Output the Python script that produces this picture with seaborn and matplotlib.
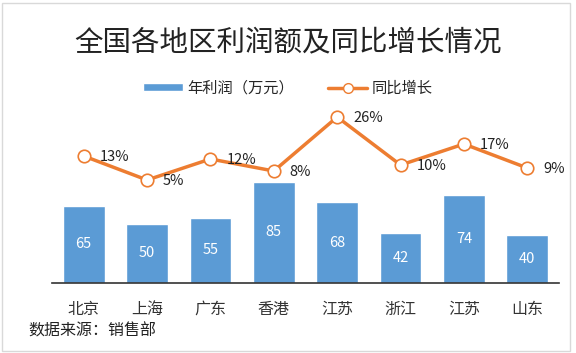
import pandas as pd
import matplotlib.pyplot as plt
import seaborn as sns
from matplotlib.patches import Patch, Rectangle
from matplotlib.lines import Line2D

# 数据
regions = ['北京', '上海', '广东', '香港', '江苏', '浙江', '江苏', '山东']
profit = [65, 50, 55, 85, 68, 42, 74, 40]
growth = [13, 5, 12, 8, 26, 10, 17, 9]

df = pd.DataFrame({'pos': range(len(regions)), 'profit': profit, 'growth': growth})

sns.set_theme(style='white')
plt.rcParams['font.family'] = ['Noto Sans CJK SC', 'DejaVu Sans']

bar_color = '#5B9BD5'
line_color = '#ED7D31'

fig = plt.figure(figsize=(5.76, 3.53), dpi=100)
ax = fig.add_axes([52 / 576, 70 / 353, 507 / 576, 183 / 353])

# 柱状图
sns.barplot(data=df, x='pos', y='profit', color=bar_color, saturation=1,
            width=0.66, ax=ax)
for i, v in enumerate(profit):
    ax.text(i, v / 2, str(v), color='white', ha='center', va='center', fontsize=10.5)

ax.set_xlim(-0.5, len(regions) - 0.5)
ax.set_ylim(0, 183 / 1.19)
ax.set_xticks(range(len(regions)))
ax.set_xticklabels(regions, fontsize=11.5, color='#333333')
ax.tick_params(axis='x', length=0, pad=13)
ax.set_yticks([])
ax.set_xlabel('')
ax.set_ylabel('')
for s in ['top', 'right', 'left']:
    ax.spines[s].set_visible(False)
ax.spines['bottom'].set_color('#333333')
ax.spines['bottom'].set_linewidth(1.2)

# 同比增长折线
ax2 = ax.twinx()
sns.lineplot(data=df, x='pos', y='growth', color=line_color, linewidth=2.5,
             marker='o', markersize=9, markerfacecolor='white',
             markeredgecolor=line_color, markeredgewidth=1.2, ax=ax2)
for i, g in enumerate(growth):
    ax2.text(i + 0.25, g - 0.4, f'{g}%', ha='left', va='center', fontsize=10.5, color='#222222')
ax2.set_ylim(-88 / 3, 95 / 3)
ax2.set_yticks([])
ax2.set_ylabel('')
for s in ['top', 'right', 'left', 'bottom']:
    ax2.spines[s].set_visible(False)

# 标题与图例
fig.text(0.5, 1 - 42 / 353, '全国各地区利润额及同比增长情况', ha='center', va='center',
         fontsize=20.5, fontweight='light', color='#222222')
handles = [Patch(facecolor=bar_color, label='年利润（万元）'),
           Line2D([0], [0], color=line_color, linewidth=2.5, marker='o', markersize=7,
                  markerfacecolor='white', markeredgecolor=line_color, label='同比增长')]
fig.legend(handles=handles, loc='center', bbox_to_anchor=(0.5, 1 - 88 / 353), ncol=2,
           frameon=False, fontsize=11, handlelength=2.6, columnspacing=2.2,
           handletextpad=0.3, handleheight=0.5)

fig.text(28 / 576, 1 - 331 / 353, '数据来源：销售部', ha='left', va='center',
         fontsize=11.5, color='#222222')

# 外边框
fig.patches.append(Rectangle((2 / 576, 2 / 353), 568 / 576, 348 / 353, transform=fig.transFigure,
                             fill=False, edgecolor='#D9D9D9', linewidth=1))

plt.savefig('out.png', dpi=100)
